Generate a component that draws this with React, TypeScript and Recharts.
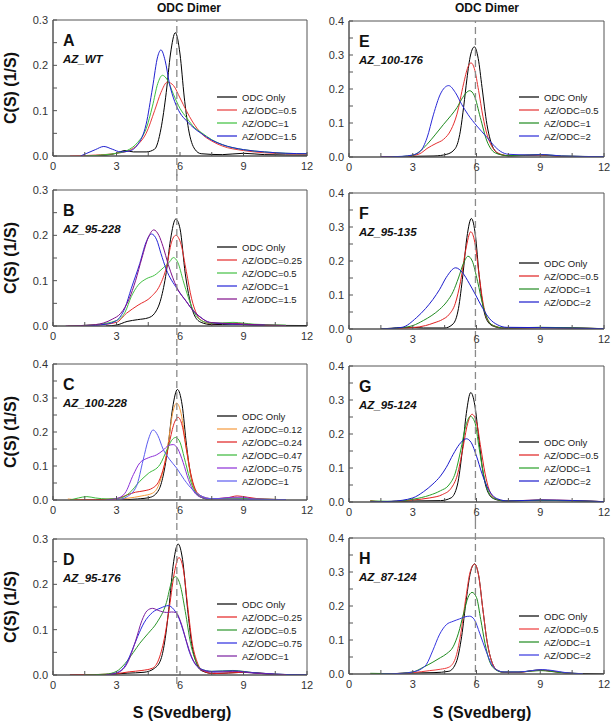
import React from 'react';
import { LineChart, Line, XAxis, YAxis, ReferenceLine, ReferenceArea } from 'recharts';

type Pt = [number, number];

// c(s) distributions, [S, c(S)]
// A – AZ_WT
const aOdc: Pt[] = [[1.5,0],[2.5,0.002],[3.0,0.006],[3.4,0.012],[3.8,0.009],[4.4,0.009],[4.8,0.015],[5.1,0.06],[5.35,0.14],[5.55,0.225],[5.78,0.272],[6.0,0.225],[6.2,0.13],[6.4,0.06],[6.7,0.015],[7.0,0.005],[8,0.003],[9,0.006],[10,0.003],[12,0.002]];
const aAz05: Pt[] = [[0.8,0],[2,0.002],[3,0.006],[3.6,0.012],[4.0,0.025],[4.4,0.05],[4.8,0.1],[5.1,0.14],[5.4,0.163],[5.7,0.155],[6.0,0.128],[6.3,0.1],[6.6,0.075],[7.0,0.05],[7.5,0.033],[8,0.022],[9,0.012],[10,0.007],[11,0.005],[12,0.004]];
const aAz1: Pt[] = [[1.5,0],[2.5,0.003],[3.0,0.006],[3.5,0.012],[4.0,0.03],[4.4,0.06],[4.7,0.11],[4.95,0.16],[5.17,0.178],[5.4,0.168],[5.7,0.135],[6.0,0.105],[6.3,0.085],[6.7,0.062],[7.0,0.052],[7.5,0.036],[8,0.025],[9,0.014],[10,0.009],[11,0.006],[12,0.005]];
const aAz15: Pt[] = [[1.3,0],[1.6,0.006],[2.0,0.014],[2.4,0.021],[2.8,0.015],[3.2,0.009],[3.6,0.011],[4.0,0.025],[4.4,0.07],[4.7,0.15],[4.95,0.22],[5.1,0.234],[5.3,0.21],[5.5,0.16],[5.75,0.12],[6.0,0.095],[6.3,0.078],[6.7,0.06],[7.0,0.05],[7.5,0.035],[8,0.025],[9,0.014],[10,0.009],[11,0.006],[12,0.005]];

// B – AZ_95-228
const bOdc: Pt[] = [[2.5,0],[3.0,0.002],[3.5,0.01],[4.0,0.014],[4.5,0.018],[4.8,0.028],[5.1,0.06],[5.35,0.118],[5.55,0.19],[5.8,0.236],[6.0,0.215],[6.25,0.115],[6.45,0.06],[6.7,0.022],[7.0,0.008],[7.5,0.003],[8.5,0.004],[9.5,0.002],[12,0.001]];
const bAz025: Pt[] = [[0.7,0],[2,0.002],[3.0,0.008],[3.47,0.028],[4.02,0.046],[4.65,0.065],[5.05,0.09],[5.36,0.13],[5.6,0.185],[5.8,0.2],[6.05,0.18],[6.3,0.12],[6.55,0.06],[6.8,0.025],[7.1,0.01],[7.5,0.005],[8.5,0.006],[9.5,0.003],[11,0.001]];
const bAz05: Pt[] = [[0.7,0],[2,0.003],[3.0,0.012],[3.4,0.03],[3.7,0.065],[4.02,0.09],[4.4,0.104],[4.8,0.112],[5.2,0.128],[5.52,0.142],[5.68,0.151],[5.9,0.14],[6.15,0.1],[6.4,0.062],[6.62,0.035],[7.0,0.012],[7.5,0.006],[8.5,0.008],[9.5,0.004],[11,0.002]];
const bAz1: Pt[] = [[1.5,0],[2.5,0.004],[3.0,0.012],[3.4,0.04],[3.7,0.083],[4.1,0.138],[4.4,0.185],[4.65,0.203],[4.9,0.19],[5.1,0.16],[5.35,0.125],[5.85,0.083],[6.3,0.054],[6.6,0.035],[6.95,0.02],[7.4,0.008],[8.5,0.004],[10,0.002]];
const bAz15: Pt[] = [[0.6,0],[2,0.003],[2.8,0.015],[3.2,0.028],[3.6,0.06],[3.9,0.1],[4.2,0.15],[4.5,0.195],[4.76,0.212],[5.0,0.2],[5.2,0.175],[5.45,0.135],[5.85,0.085],[6.3,0.054],[6.6,0.035],[6.95,0.02],[7.4,0.008],[8.5,0.005],[9.5,0.003],[11,0.001]];

// C – AZ_100-228
const cOdc: Pt[] = [[3.0,0],[4.0,0.003],[4.6,0.008],[5.0,0.03],[5.2,0.07],[5.44,0.16],[5.65,0.27],[5.88,0.325],[6.1,0.28],[6.31,0.16],[6.5,0.075],[6.7,0.03],[6.95,0.01],[7.3,0.003],[9,0.003],[11,0.001]];
const cAz012: Pt[] = [[0.7,0.003],[1.2,0.001],[2.5,0.001],[3.5,0.005],[4.2,0.012],[4.7,0.02],[5.0,0.045],[5.25,0.1],[5.45,0.17],[5.65,0.255],[5.84,0.285],[6.05,0.255],[6.3,0.15],[6.5,0.075],[6.7,0.03],[7.0,0.01],[7.5,0.003],[9,0.003],[11,0.001]];
const cAz024: Pt[] = [[0.8,0],[2,0.001],[3.0,0.004],[3.5,0.015],[3.9,0.023],[4.3,0.027],[4.7,0.035],[5.0,0.055],[5.25,0.1],[5.5,0.17],[5.72,0.225],[5.91,0.243],[6.1,0.22],[6.3,0.15],[6.5,0.08],[6.7,0.035],[7.0,0.012],[7.5,0.004],[8.2,0.006],[8.7,0.012],[9.2,0.008],[10,0.002],[11,0.001]];
const cAz047: Pt[] = [[0.8,0],[1.2,0.006],[1.6,0.01],[2.0,0.006],[2.6,0.003],[3.2,0.006],[3.6,0.02],[4.1,0.055],[4.5,0.078],[5.05,0.104],[5.4,0.15],[5.6,0.175],[5.8,0.184],[6.0,0.17],[6.2,0.125],[6.45,0.065],[6.7,0.025],[7.0,0.008],[7.5,0.003],[8.5,0.006],[9.5,0.003],[11,0.001]];
const cAz075: Pt[] = [[2.5,0],[3.0,0.004],[3.4,0.02],[3.8,0.075],[4.1,0.109],[4.5,0.124],[4.9,0.133],[5.2,0.146],[5.45,0.16],[5.68,0.163],[5.9,0.15],[6.15,0.11],[6.4,0.06],[6.65,0.025],[7.0,0.008],[7.5,0.003],[8.5,0.008],[9,0.008],[9.5,0.003],[11,0.001]];
const cAz1: Pt[] = [[3.0,0],[3.5,0.01],[3.94,0.04],[4.26,0.118],[4.5,0.177],[4.73,0.206],[4.95,0.19],[5.2,0.15],[5.5,0.12],[5.84,0.094],[6.2,0.06],[6.6,0.03],[7.0,0.012],[7.5,0.004],[9,0.002],[11,0.001]];

// D – AZ_95-176
const dOdc: Pt[] = [[0.8,0],[2.5,0.001],[3.5,0.004],[4.3,0.006],[4.8,0.015],[5.1,0.035],[5.3,0.08],[5.47,0.145],[5.7,0.25],[5.91,0.289],[6.12,0.255],[6.36,0.145],[6.55,0.07],[6.75,0.03],[7.0,0.01],[7.6,0.003],[9,0.006],[10.5,0.001],[12,0]];
const dAz025: Pt[] = [[0.8,0],[2,0.001],[3.0,0.003],[3.6,0.007],[4.2,0.01],[4.7,0.015],[5.0,0.035],[5.3,0.09],[5.5,0.15],[5.75,0.23],[5.95,0.259],[6.15,0.235],[6.38,0.145],[6.58,0.07],[6.8,0.03],[7.05,0.01],[7.6,0.003],[9,0.006],[10.5,0.001]];
const dAz05: Pt[] = [[1.5,0],[2.5,0.002],[3.0,0.008],[3.4,0.025],[3.8,0.05],[4.1,0.07],[4.5,0.092],[4.9,0.115],[5.36,0.16],[5.6,0.205],[5.79,0.217],[6.0,0.2],[6.25,0.14],[6.5,0.07],[6.75,0.03],[7.0,0.013],[7.5,0.008],[8.5,0.01],[9.5,0.005],[11,0.001]];
const dAz075: Pt[] = [[2.5,0],[3.0,0.005],[3.4,0.02],[3.7,0.05],[4.0,0.085],[4.3,0.115],[4.7,0.138],[5.1,0.148],[5.44,0.153],[5.7,0.145],[5.95,0.125],[6.2,0.09],[6.45,0.05],[6.7,0.025],[7.0,0.013],[7.5,0.008],[8.5,0.009],[9.5,0.005],[10.5,0.002],[12,0]];
const dAz1: Pt[] = [[2.5,0],[3.0,0.004],[3.5,0.025],[3.9,0.075],[4.2,0.12],[4.45,0.142],[4.7,0.147],[5.0,0.142],[5.36,0.138],[5.6,0.139],[5.8,0.138],[6.05,0.115],[6.3,0.075],[6.55,0.04],[6.8,0.02],[7.1,0.01],[7.6,0.006],[8.5,0.008],[9.5,0.004],[11,0.001]];

// E – AZ_100-176
const eOdc: Pt[] = [[1.5,0],[3,0.002],[4.0,0.003],[4.6,0.008],[5.0,0.025],[5.24,0.076],[5.4,0.15],[5.55,0.23],[5.72,0.3],[5.9,0.324],[6.08,0.29],[6.26,0.205],[6.49,0.096],[6.65,0.05],[6.8,0.025],[7.1,0.008],[7.6,0.003],[9,0.006],[10,0.002],[12,0.001]];
const eAz05: Pt[] = [[1.5,0],[2.5,0.001],[3.0,0.004],[3.4,0.012],[3.67,0.025],[4.1,0.04],[4.45,0.052],[4.8,0.08],[5.08,0.126],[5.39,0.215],[5.6,0.265],[5.74,0.277],[5.9,0.26],[6.1,0.195],[6.3,0.12],[6.5,0.065],[6.75,0.028],[7.0,0.012],[7.5,0.004],[9,0.006],[10,0.002],[12,0.001]];
const eAz1: Pt[] = [[2.0,0],[3.0,0.005],[3.3,0.015],[3.67,0.037],[4.05,0.065],[4.45,0.096],[4.8,0.122],[5.08,0.145],[5.35,0.175],[5.68,0.195],[5.9,0.18],[6.18,0.116],[6.49,0.047],[6.7,0.022],[6.96,0.01],[7.5,0.004],[9,0.007],[10,0.003],[12,0.001]];
const eAz2: Pt[] = [[1.5,0],[2.5,0.002],[3.0,0.006],[3.36,0.017],[3.67,0.056],[3.98,0.126],[4.3,0.185],[4.69,0.21],[5.0,0.19],[5.3,0.155],[5.6,0.125],[6.02,0.091],[6.49,0.058],[6.8,0.035],[7.12,0.017],[7.5,0.008],[8.5,0.006],[9.2,0.007],[10,0.003],[12,0.001]];

// F – AZ_95-135
const fOdc: Pt[] = [[1.5,0],[3.0,0.005],[3.5,0.003],[4.5,0.003],[4.9,0.015],[5.15,0.06],[5.36,0.16],[5.55,0.27],[5.76,0.325],[5.95,0.275],[6.12,0.16],[6.3,0.07],[6.5,0.025],[6.8,0.008],[7.3,0.002],[9,0.004],[12,0.001]];
const fAz05: Pt[] = [[1.5,0],[3.0,0.004],[3.6,0.01],[4.0,0.018],[4.4,0.028],[4.7,0.042],[5.0,0.075],[5.25,0.14],[5.5,0.235],[5.73,0.286],[5.92,0.255],[6.12,0.16],[6.3,0.08],[6.5,0.03],[6.8,0.01],[7.3,0.003],[9,0.004],[12,0.001]];
const fAz1: Pt[] = [[1.5,0],[2.5,0.004],[3.0,0.01],[3.5,0.025],[3.9,0.04],[4.27,0.058],[4.6,0.08],[4.9,0.11],[5.15,0.15],[5.4,0.195],[5.6,0.214],[5.8,0.2],[6.05,0.14],[6.3,0.07],[6.55,0.025],[6.8,0.01],[7.3,0.003],[9,0.005],[12,0.001]];
const fAz2: Pt[] = [[1.5,0],[2.5,0.005],[3.17,0.033],[3.6,0.06],[3.95,0.087],[4.27,0.117],[4.58,0.152],[5.02,0.18],[5.35,0.165],[5.65,0.135],[5.96,0.1],[6.3,0.06],[6.62,0.03],[7.0,0.012],[7.4,0.005],[9,0.004],[12,0.001]];

// G – AZ_95-124
const gOdc: Pt[] = [[1.0,0],[3,0.003],[4.3,0.004],[4.8,0.012],[5.1,0.05],[5.33,0.15],[5.52,0.26],[5.73,0.322],[5.92,0.285],[6.12,0.18],[6.3,0.09],[6.5,0.035],[6.8,0.01],[7.3,0.003],[9,0.005],[12,0.001]];
const gAz05: Pt[] = [[1.0,0.004],[1.5,0.001],[3.0,0.006],[3.8,0.012],[4.4,0.022],[4.8,0.04],[5.1,0.08],[5.35,0.155],[5.58,0.23],[5.79,0.258],[6.0,0.235],[6.2,0.16],[6.4,0.085],[6.6,0.035],[6.9,0.01],[7.4,0.003],[9,0.006],[12,0.001]];
const gAz1: Pt[] = [[1.0,0.003],[2.0,0.002],[3.0,0.008],[3.8,0.02],[4.3,0.033],[4.7,0.05],[5.0,0.085],[5.25,0.15],[5.5,0.225],[5.71,0.252],[5.92,0.235],[6.12,0.16],[6.32,0.085],[6.55,0.032],[6.85,0.01],[7.4,0.003],[9,0.005],[12,0.001]];
const gAz2: Pt[] = [[1.0,0],[2.0,0.002],[3.0,0.012],[3.5,0.03],[3.95,0.053],[4.3,0.076],[4.58,0.102],[4.9,0.14],[5.2,0.17],[5.52,0.186],[5.75,0.175],[6.0,0.135],[6.25,0.085],[6.5,0.045],[6.75,0.02],[7.0,0.009],[7.5,0.003],[9,0.006],[12,0.001]];

// H – AZ_87-124
const hOdc: Pt[] = [[1.5,0],[3.0,0.003],[4.0,0.004],[4.7,0.008],[5.05,0.035],[5.3,0.11],[5.52,0.22],[5.72,0.3],[5.91,0.324],[6.1,0.29],[6.3,0.19],[6.5,0.095],[6.7,0.04],[6.95,0.012],[7.3,0.005],[8,0.005],[8.6,0.01],[9.0,0.012],[9.5,0.009],[10.2,0.003],[11,0.001],[12,0]];
const hAz05: Pt[] = [[1.0,0],[2.5,0.002],[3.0,0.004],[3.8,0.01],[4.3,0.014],[4.7,0.02],[5.0,0.045],[5.25,0.115],[5.5,0.225],[5.7,0.3],[5.91,0.323],[6.1,0.29],[6.3,0.19],[6.5,0.095],[6.7,0.04],[6.95,0.012],[7.3,0.005],[8,0.005],[8.6,0.009],[9.0,0.011],[9.5,0.008],[10.2,0.003],[11,0.001]];
const hAz1: Pt[] = [[1.0,0.002],[2.0,0.001],[3.0,0.006],[3.5,0.02],[3.95,0.035],[4.3,0.048],[4.6,0.06],[4.9,0.08],[5.15,0.12],[5.4,0.18],[5.6,0.225],[5.79,0.24],[6.0,0.225],[6.2,0.16],[6.4,0.09],[6.6,0.04],[6.85,0.015],[7.2,0.006],[8,0.006],[9,0.01],[10,0.004],[11,0.001]];
const hAz2: Pt[] = [[1.5,0],[2.5,0.002],[3.0,0.006],[3.4,0.015],[3.64,0.028],[3.95,0.07],[4.25,0.115],[4.58,0.145],[4.9,0.155],[5.2,0.162],[5.45,0.168],[5.68,0.17],[5.9,0.16],[6.15,0.12],[6.46,0.066],[6.7,0.03],[6.95,0.012],[7.3,0.006],[8,0.006],[8.6,0.01],[9.1,0.013],[9.6,0.01],[10.2,0.004],[11,0.001]];

const X_TICKS = [0, 1.5, 3, 4.5, 6, 7.5, 9, 10.5, 12];
const Y_TICKS_03 = [0, 0.05, 0.1, 0.15, 0.2, 0.25, 0.3];
const Y_TICKS_04 = [0, 0.05, 0.1, 0.15, 0.2, 0.25, 0.3, 0.35, 0.4];
const DIMER_S = [5.85, 5.95]; // dashed "ODC Dimer" line, left / right column

interface Series { name: string; color: string; pts: Pt[] }
interface Panel { letter: string; construct: string; yMax: number; series: Series[] }

const panels: Panel[] = [
  { letter: 'A', construct: 'AZ_WT', yMax: 0.3, series: [
    { name: 'ODC Only', color: '#000000', pts: aOdc },
    { name: 'AZ/ODC=0.5', color: '#e83a3a', pts: aAz05 },
    { name: 'AZ/ODC=1', color: '#3cc03c', pts: aAz1 },
    { name: 'AZ/ODC=1.5', color: '#2020d0', pts: aAz15 },
  ] },
  { letter: 'B', construct: 'AZ_95-228', yMax: 0.3, series: [
    { name: 'ODC Only', color: '#000000', pts: bOdc },
    { name: 'AZ/ODC=0.25', color: '#e52b2b', pts: bAz025 },
    { name: 'AZ/ODC=0.5', color: '#44c044', pts: bAz05 },
    { name: 'AZ/ODC=1', color: '#2626d8', pts: bAz1 },
    { name: 'AZ/ODC=1.5', color: '#80108a', pts: bAz15 },
  ] },
  { letter: 'C', construct: 'AZ_100-228', yMax: 0.4, series: [
    { name: 'ODC Only', color: '#000000', pts: cOdc },
    { name: 'AZ/ODC=0.12', color: '#f59a3c', pts: cAz012 },
    { name: 'AZ/ODC=0.24', color: '#e02020', pts: cAz024 },
    { name: 'AZ/ODC=0.47', color: '#3ab83a', pts: cAz047 },
    { name: 'AZ/ODC=0.75', color: '#8c2fd8', pts: cAz075 },
    { name: 'AZ/ODC=1', color: '#5c5cf0', pts: cAz1 },
  ] },
  { letter: 'D', construct: 'AZ_95-176', yMax: 0.3, series: [
    { name: 'ODC Only', color: '#000000', pts: dOdc },
    { name: 'AZ/ODC=0.25', color: '#e52020', pts: dAz025 },
    { name: 'AZ/ODC=0.5', color: '#2a962a', pts: dAz05 },
    { name: 'AZ/ODC=0.75', color: '#2a2ae0', pts: dAz075 },
    { name: 'AZ/ODC=1', color: '#7a1fa0', pts: dAz1 },
  ] },
  { letter: 'E', construct: 'AZ_100-176', yMax: 0.4, series: [
    { name: 'ODC Only', color: '#000000', pts: eOdc },
    { name: 'AZ/ODC=0.5', color: '#e53030', pts: eAz05 },
    { name: 'AZ/ODC=1', color: '#1e8a1e', pts: eAz1 },
    { name: 'AZ/ODC=2', color: '#2a2ad8', pts: eAz2 },
  ] },
  { letter: 'F', construct: 'AZ_95-135', yMax: 0.4, series: [
    { name: 'ODC Only', color: '#000000', pts: fOdc },
    { name: 'AZ/ODC=0.5', color: '#e02020', pts: fAz05 },
    { name: 'AZ/ODC=1', color: '#228b22', pts: fAz1 },
    { name: 'AZ/ODC=2', color: '#1c1ccc', pts: fAz2 },
  ] },
  { letter: 'G', construct: 'AZ_95-124', yMax: 0.4, series: [
    { name: 'ODC Only', color: '#000000', pts: gOdc },
    { name: 'AZ/ODC=0.5', color: '#e02020', pts: gAz05 },
    { name: 'AZ/ODC=1', color: '#28a028', pts: gAz1 },
    { name: 'AZ/ODC=2', color: '#1c1ccc', pts: gAz2 },
  ] },
  { letter: 'H', construct: 'AZ_87-124', yMax: 0.4, series: [
    { name: 'ODC Only', color: '#000000', pts: hOdc },
    { name: 'AZ/ODC=0.5', color: '#ee3a3a', pts: hAz05 },
    { name: 'AZ/ODC=1', color: '#1e8a1e', pts: hAz1 },
    { name: 'AZ/ODC=2', color: '#3535e0', pts: hAz2 },
  ] },
];

// layout
const FONT = '"Liberation Sans", Arial, sans-serif';
const PLOT_H = 136;
const PAD_TOP = 20;
const AXIS_H = 20;
const CHART_H = PAD_TOP + PLOT_H + AXIS_H;
const COLS = [
  { chartLeft: 0, chartW: 320, yAxisW: 53, rightM: 13, legendDx: 164, labelX: 182, titleX: 189 },
  { chartLeft: 300, chartW: 312, yAxisW: 49, rightM: 8, legendDx: 170, labelX: 482, titleX: 487 },
];
const PLOT_TOPS = [[20, 190, 364, 539], [21, 193, 366, 538]];
const LEGEND_DY = [[77, 57, 52, 65], [76, 70, 76, 78]];

const fmtX = (v: number) => (v % 3 === 0 ? String(v) : '');
const fmtY = (v: number) => (Math.round(v * 100) % 10 === 0 ? v.toFixed(1) : '');

const tickStyle = { fill: '#333', fontSize: 11, fontFamily: FONT };

function PanelChart({ panel, col, row }: { panel: Panel; col: number; row: number }) {
  const c = COLS[col];
  const plotTop = PLOT_TOPS[col][row];
  const yMax = panel.yMax;
  const yHigh = row === 0 ? yMax : yMax * (1 + PAD_TOP / PLOT_H);
  const yLow = row === 3 ? -yMax * 9 / PLOT_H : -yMax * AXIS_H / PLOT_H;
  return (
    <div style={{ position: 'absolute', left: c.chartLeft, top: plotTop - PAD_TOP }}>
      <LineChart width={c.chartW} height={CHART_H} margin={{ top: PAD_TOP, right: c.rightM, bottom: 0, left: 0 }}>
        <XAxis
          type="number"
          dataKey="s"
          domain={[0, 12]}
          ticks={X_TICKS}
          interval={0}
          tickFormatter={fmtX}
          tickSize={-4}
          tickMargin={10}
          height={AXIS_H}
          tick={tickStyle}
          stroke="#555"
          allowDataOverflow
        />
        <YAxis
          type="number"
          dataKey="c"
          domain={[0, yMax]}
          ticks={yMax > 0.3 ? Y_TICKS_04 : Y_TICKS_03}
          interval={0}
          tickFormatter={fmtY}
          tickSize={-4}
          tickMargin={9}
          width={c.yAxisW}
          tick={tickStyle}
          stroke="#555"
          allowDataOverflow
        />
        <ReferenceArea x1={0} x2={12} y1={0} y2={yMax} fill="none" stroke="#555" strokeWidth={1} />
        {panel.series.map((s) => (
          <Line
            key={s.name}
            data={s.pts.map(([x, y]) => ({ s: x, c: y }))}
            dataKey="c"
            name={s.name}
            type="monotone"
            stroke={s.color}
            strokeWidth={1}
            dot={false}
            activeDot={false}
            isAnimationActive={false}
          />
        ))}
        <ReferenceLine
          segment={[{ x: DIMER_S[col], y: yLow }, { x: DIMER_S[col], y: yHigh }]}
          ifOverflow="visible"
          stroke="#8a8a8a"
          strokeWidth={1.3}
          strokeDasharray="7 4"
        />
      </LineChart>
    </div>
  );
}

export default function App() {
  return (
    <div style={{ position: 'absolute', left: 0, top: 0, width: 612, height: 724, background: '#fff', fontFamily: FONT }}>
      {panels.map((p, i) => (
        <PanelChart key={p.letter} panel={p} col={Math.floor(i / 4)} row={i % 4} />
      ))}
      <svg width={612} height={724} style={{ position: 'absolute', left: 0, top: 0, pointerEvents: 'none' }} fontFamily={FONT}>
        {COLS.map((c, col) => (
          <g key={col}>
            <text x={c.titleX} y={11.5} textAnchor="middle" fontSize={12} fontWeight="bold" fill="#111">ODC Dimer</text>
            <text x={c.labelX} y={718} textAnchor="middle" fontSize={16} fontWeight="bold" fill="#111">S (Svedberg)</text>
          </g>
        ))}
        {panels.map((p, i) => {
          const col = Math.floor(i / 4);
          const row = i % 4;
          const c = COLS[col];
          const plotLeft = c.chartLeft + c.yAxisW;
          const plotTop = PLOT_TOPS[col][row];
          const lx = plotLeft + c.legendDx;
          const ly = plotTop + LEGEND_DY[col][row];
          return (
            <g key={p.letter}>
              {col === 0 && (
                <text
                  x={16}
                  y={plotTop + PLOT_H / 2}
                  transform={`rotate(-90 16 ${plotTop + PLOT_H / 2})`}
                  textAnchor="middle"
                  fontSize={16}
                  fontWeight="bold"
                  fill="#111"
                >
                  C(S) (1/S)
                </text>
              )}
              <text x={plotLeft + 10} y={plotTop + 26} fontSize={16} fontWeight="bold" fill="#111">{p.letter}</text>
              <text x={plotLeft + 10} y={plotTop + 43} fontSize={11.5} fontWeight="bold" fontStyle="italic" fill="#111">{p.construct}</text>
              {p.series.map((s, k) => (
                <g key={s.name}>
                  <line x1={lx} x2={lx + 20} y1={ly + k * 13} y2={ly + k * 13} stroke={s.color} strokeWidth={1.2} />
                  <text x={lx + 25} y={ly + k * 13 + 3.5} fontSize={9.5} fill="#222">{s.name}</text>
                </g>
              ))}
            </g>
          );
        })}
      </svg>
    </div>
  );
}
